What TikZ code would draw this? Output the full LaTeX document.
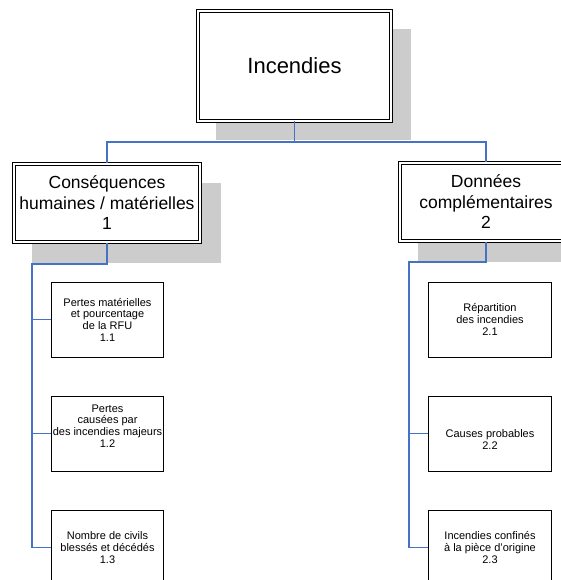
\documentclass[tikz,border=0pt]{standalone}
\usepackage{fontspec}
\setmainfont{Liberation Sans}
\usepackage{xcolor}
\usepackage{tikz}
\usetikzlibrary{positioning,backgrounds}

\definecolor{linkblue}{RGB}{68,114,196}
\definecolor{shadowgray}{RGB}{204,204,204}

\begin{document}
\begin{tikzpicture}[x=1pt, y=-1pt, node distance=38pt,
  mainbox/.style={draw, double, line width=1pt, double distance=1.8pt, fill=white, align=center, inner sep=1pt},
  subbox/.style={draw, line width=1pt, fill=white, align=center, inner sep=1pt, minimum height=75pt, font=\fontsize{11}{11.7}\selectfont},
  link/.style={draw=linkblue, line width=1.2pt}]
\useasboundingbox (0,0) rectangle (561,580);

\node (top) [mainbox, minimum width=193pt, minimum height=110pt, font=\fontsize{22}{26}\selectfont] at (294.5,66) {Incendies};
\node (grp1) [mainbox, minimum width=186pt, minimum height=78pt, font=\fontsize{17.5}{20.5}\selectfont] at (107,203) {Conséquences\\humaines / matérielles\\1};
\node (grp2) [mainbox, minimum width=172pt, minimum height=78pt, font=\fontsize{17.5}{20.5}\selectfont] at (486,202) {Données\\complémentaires\\2};

\node (c11) [subbox, minimum width=112pt] at (107.5,319.5) {Pertes matérielles\\et pourcentage\\de la RFU\\1.1};
\node (c12) [subbox, minimum width=112pt, below=of c11] {Pertes\\causées par\\des incendies majeurs\\1.2\\\strut};
\node (c13) [subbox, minimum width=112pt, below=of c12] {Nombre de civils\\blessés et décédés\\1.3};

\node (c21) [subbox, minimum width=123pt] at (490,319.5) {Répartition\\des incendies\\2.1};
\node (c22) [subbox, minimum width=123pt, below=of c21] {\strut\\Causes probables\\2.2};
\node (c23) [subbox, minimum width=123pt, below=of c22] {Incendies confinés\\à la pièce d’origine\\2.3};

% shadows
\begin{scope}[on background layer]
\fill[shadowgray] ([shift={(18,19)}]top.north west) rectangle ([shift={(19,19)}]top.south east);
\fill[shadowgray] ([shift={(18,19)}]grp1.north west) rectangle ([shift={(20,20)}]grp1.south east);
\fill[shadowgray] ([shift={(18,19)}]grp2.north west) rectangle ([shift={(20,20)}]grp2.south east);
\end{scope}

\coordinate (split) at (294.5,142);
\coordinate (lbus) at (32,264);
\coordinate (rbus) at (409,262);

\draw[link] (top.south) -- (split) -| (grp1.north);
\draw[link] (split) -| (grp2.north);

\draw[link] (grp1.south) |- (lbus) |- (c13.west);
\draw[link] (c11.west -| lbus) -- (c11.west);
\draw[link] (c12.west -| lbus) -- (c12.west);

\draw[link] (grp2.south) |- (rbus) |- (c23.west);
\draw[link] (c22.west -| rbus) -- (c22.west);
\end{tikzpicture}
\end{document}
